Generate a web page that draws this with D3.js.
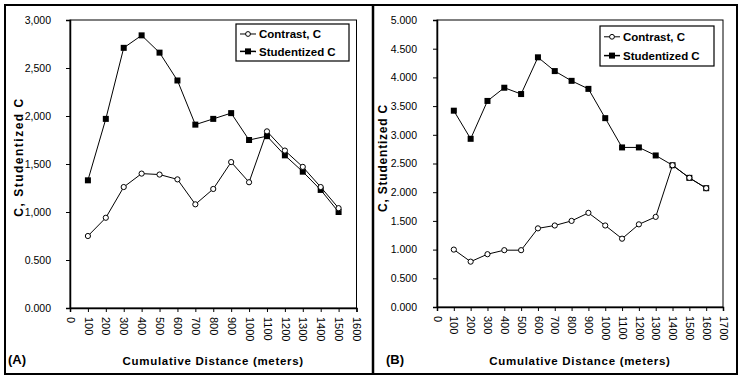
<!DOCTYPE html>
<html><head><meta charset="utf-8">
<script src="https://cdn.jsdelivr.net/npm/d3@7"></script>
<style>
body{margin:0;background:#fff;}
svg{display:block;font-family:"Liberation Sans",Arial,sans-serif;}
</style></head><body>
<svg id="c" width="747" height="379"></svg>
<script>
// ---- data ----
const distA = [100,200,300,400,500,600,700,800,900,1000,1100,1200,1300,1400,1500];
const contrastA = [0.75,0.94,1.26,1.40,1.39,1.34,1.08,1.24,1.52,1.31,1.84,1.64,1.47,1.26,1.04];
const studentA = [1.33,1.97,2.71,2.84,2.66,2.37,1.91,1.97,2.03,1.75,1.79,1.59,1.42,1.23,1.00];
const distB = [100,200,300,400,500,600,700,800,900,1000,1100,1200,1300,1400,1500,1600];
const contrastB = [1.00,0.79,0.92,0.99,0.99,1.37,1.42,1.50,1.64,1.42,1.19,1.44,1.57,2.47,2.25,2.07];
const studentB = [3.42,2.93,3.59,3.82,3.71,4.35,4.11,3.94,3.80,3.29,2.78,2.78,2.64,2.47,2.25,2.07];
const xTicksA = d3.range(0,1601,100);
const xTicksB = d3.range(0,1701,100);
const yTicksA = [0,0.5,1,1.5,2,2.5,3];
const yLabelsA = ["0.000","0.500","1,000","1,500","2,000","2,500","3,000"];
const yTicksB = [0,0.5,1,1.5,2,2.5,3,3.5,4,4.5,5];
const yLabelsB = ["0.000","0.500","1.000","1.500","2.000","2.500","3.000","3.500","4.000","4.500","5.000"];
const seriesNames = ["Contrast, C","Studentized C"];
const xTitle = "Cumulative Distance (meters)";
const yTitle = "C, Studentized C";

const svg = d3.select("#c");

// outer frame
svg.append("rect").attr("x",5).attr("y",5).attr("width",732).attr("height",369)
  .attr("fill","none").attr("stroke","#000").attr("stroke-width",2);
svg.append("line").attr("x1",373).attr("x2",373).attr("y1",5).attr("y2",374)
  .attr("stroke","#000").attr("stroke-width",2.5);

function panel(cfg){
  const x = d3.scaleLinear().domain([0,cfg.xmax]).range([cfg.x0,cfg.x1]);
  const y = d3.scaleLinear().domain([0,cfg.ymax]).range([cfg.y0,cfg.y1]);
  const g = svg.append("g");
  // plot frame (top/right)
  g.append("rect").attr("x",cfg.x0).attr("y",cfg.y1).attr("width",cfg.x1-cfg.x0).attr("height",cfg.y0-cfg.y1)
    .attr("fill","none").attr("stroke","#000").attr("stroke-width",1);
  // y axis
  const ya = d3.axisLeft(y).tickValues(cfg.yTicks).tickSize(4).tickPadding(cfg.yPad)
    .tickFormat((d,i)=>cfg.yLabels[i]);
  const yg = g.append("g").attr("transform",`translate(${cfg.x0},0)`).call(ya);
  yg.select(".domain").attr("stroke-width",1.5);
  yg.selectAll("text").attr("font-size",10.5).attr("fill","#000");
  // x axis
  const xa = d3.axisBottom(x).tickValues(cfg.xTicks).tickSize(4).tickFormat(d3.format("d"));
  const xg = g.append("g").attr("transform",`translate(0,${cfg.y0})`).call(xa);
  xg.select(".domain").attr("stroke-width",1.5);
  xg.selectAll("text").attr("font-size",11).attr("fill","#000")
    .attr("text-anchor","start").attr("transform","rotate(90)")
    .attr("x",9).attr("y",0).attr("dy","0.35em");
  // lines
  const line = d3.line().x(d=>x(d[0])).y(d=>y(d[1]));
  const cData = cfg.dist.map((d,i)=>[d,cfg.contrast[i]]);
  const sData = cfg.dist.map((d,i)=>[d,cfg.student[i]]);
  g.append("path").datum(sData).attr("d",line).attr("fill","none").attr("stroke","#000").attr("stroke-width",1);
  g.append("path").datum(cData).attr("d",line).attr("fill","none").attr("stroke","#000").attr("stroke-width",1);
  g.selectAll(".sq").data(sData).join("rect")
    .attr("x",d=>x(d[0])-3).attr("y",d=>y(d[1])-3).attr("width",6).attr("height",6).attr("fill","#000");
  g.selectAll(".ci").data(cData).join("circle")
    .attr("cx",d=>x(d[0])).attr("cy",d=>y(d[1])).attr("r",2.6)
    .attr("fill","#fff").attr("stroke","#000").attr("stroke-width",1);
  // legend
  const L = cfg.leg;
  g.append("rect").attr("x",L.x).attr("y",L.y).attr("width",L.w).attr("height",L.h)
    .attr("fill","#fff").attr("stroke","#000").attr("stroke-width",1.2);
  const rows = [L.y+L.h*0.27, L.y+L.h*0.74];
  rows.forEach((ry,i)=>{
    g.append("line").attr("x1",L.x+4).attr("x2",L.x+20).attr("y1",ry).attr("y2",ry)
      .attr("stroke","#000").attr("stroke-width",i===1?1.5:1);
    if(i===0){
      g.append("circle").attr("cx",L.x+12).attr("cy",ry).attr("r",2.4)
        .attr("fill","#fff").attr("stroke","#000");
    } else {
      g.append("rect").attr("x",L.x+9).attr("y",ry-3).attr("width",6).attr("height",6).attr("fill","#000");
    }
    g.append("text").attr("x",L.x+23).attr("y",ry).attr("dy","0.36em")
      .attr("font-size",11.5).attr("font-weight","bold").text(seriesNames[i]);
  });
  // titles
  g.append("text").attr("x",(cfg.x0+cfg.x1)/2).attr("y",365).attr("text-anchor","middle")
    .attr("font-size",11.5).attr("font-weight","bold").attr("letter-spacing",0.7).text(xTitle);
  g.append("text").attr("transform",`translate(${cfg.yTitleX},${cfg.yTitleY}) rotate(-90)`)
    .attr("text-anchor","middle").attr("font-size",12).attr("font-weight","bold")
    .attr("letter-spacing",cfg.yTitleLS).text(yTitle);
  g.append("text").attr("x",cfg.tagX).attr("y",364).attr("font-size",13).attr("font-weight","bold").text(cfg.tag);
}

panel({xmax:1600,ymax:3,x0:70,x1:356.5,y0:308,y1:20,xTicks:xTicksA,yTicks:yTicksA,yLabels:yLabelsA,yPad:15,
  dist:distA,contrast:contrastA,student:studentA,leg:{x:236,y:24,w:113,h:37},
  yTitleX:23,yTitleY:157,yTitleLS:1.5,tag:"(A)",tagX:8});
panel({xmax:1700,ymax:5,x0:437,x1:723,y0:307,y1:20,xTicks:xTicksB,yTicks:yTicksB,yLabels:yLabelsB,yPad:16,
  dist:distB,contrast:contrastB,student:studentB,leg:{x:600,y:26,w:114,h:40},
  yTitleX:387,yTitleY:158,yTitleLS:0.8,tag:"(B)",tagX:386});
</script>
</body></html>
